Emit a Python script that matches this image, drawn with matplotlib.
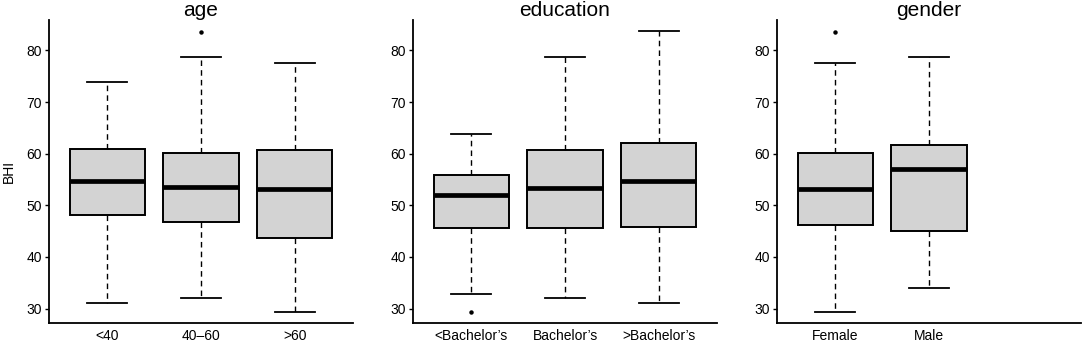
import numpy as np
import matplotlib.pyplot as plt

plt.rcParams['font.family'] = ['Liberation Sans', 'DejaVu Sans']

# box statistics (BHI)
age_labels = ['<40', '40\u201360', '>60']
age_low = [31.1, 32.1, 29.4]
age_q1 = [48.1, 46.8, 43.7]
age_med = [54.7, 53.6, 53.2]
age_q3 = [60.9, 60.2, 60.8]
age_high = [73.8, 78.7, 77.6]
age_out = [[], [83.6], []]

edu_labels = ['<Bachelor\u2019s', 'Bachelor\u2019s', '>Bachelor\u2019s']
edu_low = [32.8, 32.1, 31.1]
edu_q1 = [45.6, 45.7, 45.8]
edu_med = [52.0, 53.4, 54.8]
edu_q3 = [55.9, 60.8, 62.0]
edu_high = [63.8, 78.7, 83.7]
edu_out = [[29.4], [], []]

gen_labels = ['Female', 'Male']
gen_low = [29.4, 34.0]
gen_q1 = [46.2, 45.1]
gen_med = [53.1, 57.1]
gen_q3 = [60.2, 61.7]
gen_high = [77.6, 78.7]
gen_out = [[83.6], []]

panels = [
    ('age', age_labels, age_low, age_q1, age_med, age_q3, age_high, age_out),
    ('education', edu_labels, edu_low, edu_q1, edu_med, edu_q3, edu_high, edu_out),
    ('gender', gen_labels, gen_low, gen_q1, gen_med, gen_q3, gen_high, gen_out),
]

W, H = 1084, 343
fig = plt.figure(figsize=(W / 100, H / 100), dpi=100)
lefts = [49, 413, 777]

for i, (title, labels, lo, q1, med, q3, hi, out) in enumerate(panels):
    ax = fig.add_axes([lefts[i] / W, 20 / H, 304 / W, 303 / H])
    stats = []
    for j in range(len(labels)):
        stats.append(dict(whislo=lo[j], q1=q1[j], med=med[j], q3=q3[j],
                          whishi=hi[j], fliers=out[j], label=labels[j]))
    pos = np.arange(1, len(labels) + 1)
    ax.bxp(stats, positions=pos, widths=0.8, patch_artist=True,
           showfliers=True, capwidths=0.43,
           boxprops=dict(facecolor='#d3d3d3', edgecolor='black', linewidth=1.4),
           medianprops=dict(color='black', linewidth=3.4, solid_capstyle='butt'),
           whiskerprops=dict(color='black', linewidth=1.0, linestyle=(0, (4, 3))),
           capprops=dict(color='black', linewidth=1.3),
           flierprops=dict(marker='o', markersize=2.2, markerfacecolor='black',
                           markeredgecolor='black'))
    ax.set_xlim(0.38, 3.62)
    ax.set_ylim(27.2, 85.9)
    ax.set_yticks([30, 40, 50, 60, 70, 80])
    ax.set_xticks(pos)
    ax.set_xticklabels(labels)
    ax.tick_params(axis='x', length=0, labelsize=10, pad=4)
    ax.tick_params(axis='y', length=3, width=1, labelsize=10, pad=2)
    for s in ['top', 'right']:
        ax.spines[s].set_visible(False)
    for s in ['left', 'bottom']:
        ax.spines[s].set_linewidth(1.3)
    ax.set_title(title, fontsize=15, pad=3)
    if i == 0:
        ax.set_ylabel('BHI', fontsize=10, labelpad=8)

fig.savefig('out.png', dpi=100)
